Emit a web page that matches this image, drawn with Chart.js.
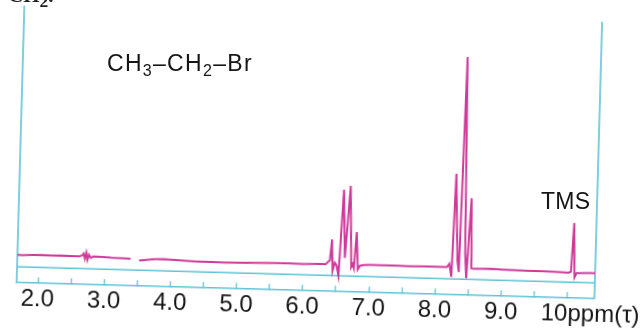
<!DOCTYPE html>
<html>
<head>
<meta charset="utf-8">
<script src="https://cdn.jsdelivr.net/npm/chart.js@4.4.1/dist/chart.umd.min.js"></script>
<style>
  html, body { margin: 0; padding: 0; background: #fff; overflow: hidden; }
  #wrap { position: relative; width: 643px; height: 333px; }
  #nmrChart { position: absolute; left: 0; top: 0; transform: rotate(1.6deg); transform-origin: 321px 166px; }
  .txt { position: absolute; font-family: "Liberation Sans", Arial, sans-serif; color: #151515; white-space: nowrap; font-size: 23px; line-height: 23px; letter-spacing: 1.3px; }
  .txt span { position: relative; top: 5px; font-size: 16px; }
  .frag { position: absolute; left: 8px; top: -15px; font: bold 21px "Liberation Serif", serif; color: #222; line-height: 21px; }
</style>
</head>
<body>
<div id="wrap">
  <canvas id="nmrChart" width="643" height="333"></canvas>
  <div class="frag">CH<sub>2</sub>.</div>
  <div class="txt" style="left:107px; top:52px;">CH<span>3</span>–CH<span>2</span>–Br</div>
  <div class="txt" style="left:541px; top:190px; letter-spacing:0.3px;">TMS</div>
</div>
<script>
// chemical shift (tau, ppm) and pen height of the trace
const ppm = [
  1.68, 1.75, 1.90, 2.05, 2.20, 2.35, 2.50, 2.62, 2.66, 2.68, 2.70, 2.72, 2.74, 2.76, 2.79, 2.83,
  2.95, 3.10, 3.25, 3.39, 3.45, 3.52, 3.60, 3.75, 3.90, 4.05, 4.20, 4.40, 4.60, 4.80, 5.00, 5.20,
  5.40, 5.60, 5.80, 6.00, 6.20, 6.34, 6.38, 6.40, 6.425, 6.445, 6.475, 6.505, 6.535, 6.585, 6.625, 6.685,
  6.725, 6.745, 6.765, 6.795, 6.825, 6.855, 6.92, 7.00, 7.20, 7.40, 7.60, 7.80, 8.00, 8.17, 8.205, 8.24,
  8.275, 8.325, 8.35, 8.395, 8.44, 8.465, 8.515, 8.54, 8.58, 8.70, 8.85, 9.00, 9.20, 9.40, 9.60, 9.80,
  10.01, 10.045, 10.075, 10.10, 10.13, 10.22, 10.32, 10.41
];
const intensity = [
  0, -0.2, 0.3, 0.4, 0.2, 0.5, 0.1, 0.3, 1.2, 3, -2, 4, -3, 2, -1, 0.4,
  0.2, -0.3, -0.5, -0.8, null, -2.4, -1.8, -0.6, -0.4, -0.8, -1.2, -1.7, -1.9, -2.0, -1.9, -1.6,
  -1.3, -1.0, -1.1, -1.2, -0.9, -0.8, 2, 3, 24, -7, 1, -2, -12, 74, 6, 78,
  -3, 0, -4, 32, -5, -1.5, -0.5, -0.4, -0.3, -0.3, -0.5, -0.4, -0.3, -0.3, 3, -10,
  93, 7, -5, 210, 14, -11, 69, -1, -1.3, -1.0, -0.9, -1.2, -1.5, -1.7, -1.9, -2.1,
  -2.5, -1.5, 47, -7, -2.8, -2.5, -2.2, -2.2
];

const tickValues = [2, 2.5, 3, 3.5, 4, 4.5, 5, 5.5, 6, 6.5, 7, 7.5, 8, 8.5, 9, 9.5, 10];
const labelValues = [2, 3, 4, 5, 6, 7, 8, 9, 10];
const labelTexts = ["2.0", "3.0", "4.0", "5.0", "6.0", "7.0", "8.0", "9.0", "       10ppm(τ)"];

const xMin = 1.68, xMax = 10.41;
const yMin = -28, yMax = 249;
const frameLevel = -12;

const cyan = "#5fc3d7";
const magenta = "#cf3a9a";

const framePlugin = {
  id: "frame",
  beforeDatasetsDraw(chart) {
    const { ctx, chartArea: a, scales: { y } } = chart;
    const fy = y.getPixelForValue(frameLevel);
    ctx.save();
    ctx.strokeStyle = cyan;
    ctx.lineWidth = 1.6;
    ctx.beginPath();
    ctx.moveTo(a.left, a.top);
    ctx.lineTo(a.left, a.bottom);
    ctx.moveTo(a.right, a.top);
    ctx.lineTo(a.right, a.bottom);
    ctx.moveTo(a.left, fy);
    ctx.lineTo(a.right, fy);
    ctx.stroke();
    ctx.restore();
  }
};

const ctx = document.getElementById("nmrChart").getContext("2d");

new Chart(ctx, {
  type: "line",
  data: {
    datasets: [{
      data: ppm.map((x, i) => ({ x: x, y: intensity[i] })),
      borderColor: magenta,
      borderWidth: 2,
      pointRadius: 0,
      tension: 0,
      fill: false
    }]
  },
  options: {
    responsive: false,
    animation: false,
    devicePixelRatio: 1,
    layout: { padding: { left: 20, right: 45, top: 14, bottom: 3 } },
    plugins: {
      legend: { display: false },
      tooltip: { enabled: false }
    },
    scales: {
      x: {
        type: "linear",
        min: xMin,
        max: xMax,
        afterBuildTicks: (scale) => {
          scale.ticks = tickValues.map(v => ({ value: v }));
        },
        afterFit: (scale) => {
          // the last label may run past the frame, as on the paper
          scale.paddingLeft = 0;
          scale.paddingRight = 0;
        },
        ticks: {
          autoSkip: false,
          maxRotation: 0,
          padding: 8,
          color: "#151515",
          font: { family: "Liberation Sans", size: 24 },
          callback: (v) => {
            const i = labelValues.indexOf(v);
            return i < 0 ? "" : labelTexts[i];
          }
        },
        grid: {
          drawOnChartArea: false,
          drawTicks: true,
          tickLength: -6,
          color: cyan,
          lineWidth: 1.3
        },
        border: { color: cyan, width: 1.6 }
      },
      y: {
        display: false,
        min: yMin,
        max: yMax
      }
    }
  },
  plugins: [framePlugin]
});
</script>
</body>
</html>
